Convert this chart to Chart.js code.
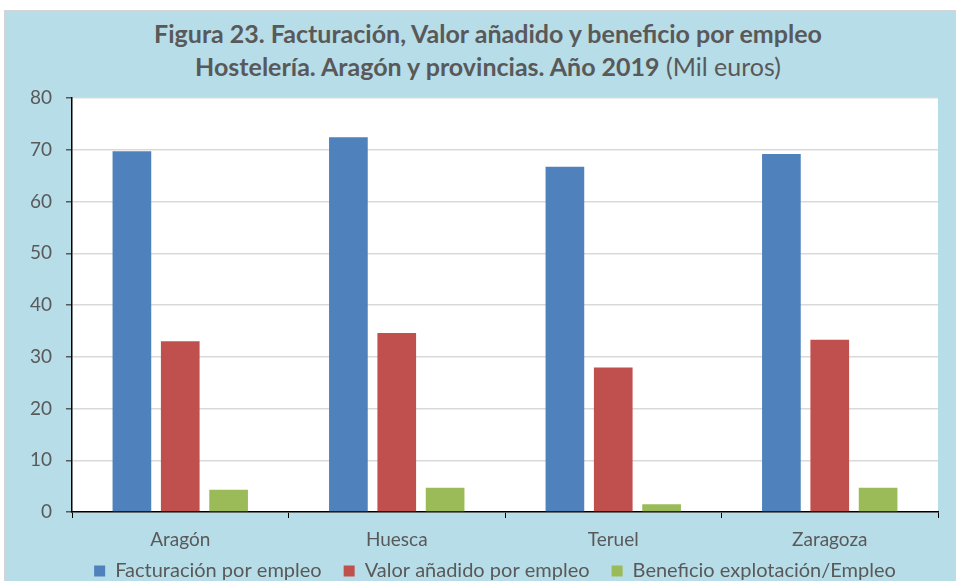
<!DOCTYPE html>
<html>
<head>
<meta charset="utf-8">
<script src="https://cdn.jsdelivr.net/npm/chart.js@4.4.1/dist/chart.umd.min.js"></script>
<style>
    body { margin: 0; background: #fff; }
    #frame {
        position: absolute; left: 4px; top: 10px; width: 952px; height: 571px;
        background: #B7DDE8; border-left: 1px solid #d4d4d4; border-top: 1px solid #d4d4d4;
        box-sizing: border-box;
    }
    #title {
        position: absolute; left: 0; top: 17px; width: 976px; text-align: center;
        font-family: Lato, sans-serif; font-size: 25px; line-height: 33px; color: #595959;
    }
    #title b { font-weight: 700; }
    #wrap { position: absolute; left: 0; top: 0; width: 956px; height: 581px; }
</style>
</head>
<body>
<div id="frame"></div>
<div id="title">
    <b>Figura 23. Facturación, Valor añadido y beneficio por empleo</b><br>
    <b>Hostelería. Aragón y provincias. Año 2019</b> (Mil euros)
</div>
<div id="wrap"><canvas id="chart" width="956" height="581"></canvas></div>
<script>
const categories = ['Aragón', 'Huesca', 'Teruel', 'Zaragoza'];
const seriesNames = ['Facturación por empleo', 'Valor añadido por empleo', 'Beneficio explotación/Empleo'];
const facturacion = [69.7, 72.4, 66.7, 69.2];
const valorAnadido = [33.0, 34.6, 27.9, 33.3];
const beneficio = [4.3, 4.7, 1.5, 4.7];
const yMin = 0, yMax = 80, yStep = 10;

const colors = ['#4F81BD', '#C0504D', '#9BBB59'];
const textColor = '#595959';
const tickFont = { family: 'Lato, sans-serif', size: 19 };
const legendFont = { family: 'Lato, sans-serif', size: 20 };

// white plot area, the rest of the frame stays light blue
const plotBackground = {
    id: 'plotBackground',
    beforeDraw(chart) {
        const a = chart.chartArea;
        const ctx = chart.ctx;
        ctx.save();
        ctx.fillStyle = '#ffffff';
        ctx.fillRect(a.left, a.top, a.right - a.left, a.bottom - a.top);
        ctx.restore();
    }
};

// x labels are clipped to the axis box, let them run into the legend band;
// nudge the legend a bit left like in the original
const layoutTweaks = {
    id: 'layoutTweaks',
    afterLayout(chart) {
        chart.scales.x.bottom = chart.height;
        chart.legend.left -= 10;
        chart.legend.right -= 10;
    }
};

const datasets = [facturacion, valorAnadido, beneficio].map((values, i) => ({
    label: seriesNames[i],
    data: values,
    backgroundColor: colors[i],
    borderWidth: 0,
    categoryPercentage: 0.67,
    barPercentage: 0.8
}));

new Chart(document.getElementById('chart'), {
    type: 'bar',
    data: { labels: categories, datasets: datasets },
    options: {
        responsive: false,
        animation: false,
        layout: { padding: { top: 98, right: 18, left: 0, bottom: -10 } },
        plugins: {
            title: { display: false },
            tooltip: { enabled: false },
            legend: {
                position: 'bottom',
                fullSize: false,
                labels: {
                    font: legendFont, color: textColor,
                    boxWidth: 11, boxHeight: 11, padding: 22
                }
            }
        },
        scales: {
            x: {
                grid: {
                    offset: true, drawOnChartArea: false, drawTicks: true,
                    tickLength: 6, tickColor: '#000', color: '#000'
                },
                border: { color: '#000', width: 1.5 },
                ticks: { font: tickFont, color: textColor, padding: 10 },
                afterFit(scale) { scale.height = 27; }
            },
            y: {
                min: yMin, max: yMax,
                grid: { color: '#d9d9d9', lineWidth: 1.5, tickColor: '#595959', tickLength: 6 },
                border: { color: '#000', width: 1.5 },
                ticks: { stepSize: yStep, font: tickFont, color: textColor, padding: 14 },
                afterFit(scale) { scale.width = 72; }
            }
        }
    },
    plugins: [plotBackground, layoutTweaks]
});
</script>
</body>
</html>
